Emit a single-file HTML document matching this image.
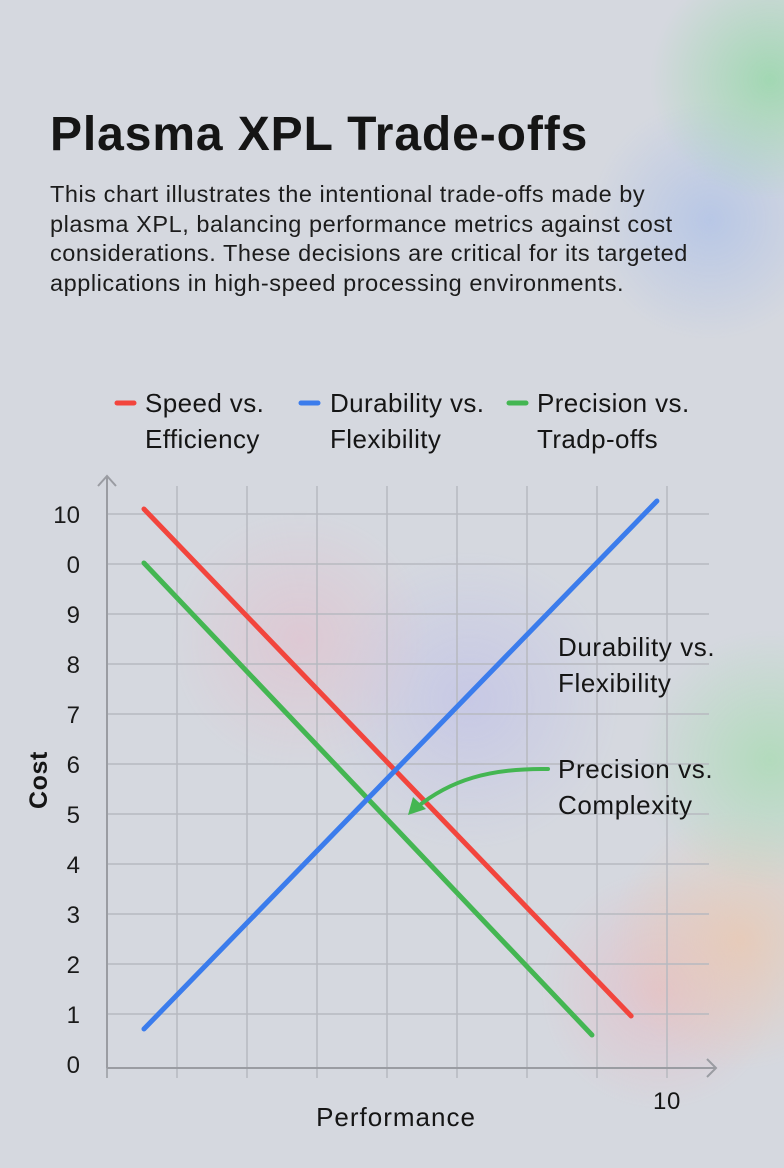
<!DOCTYPE html>
<html><head><meta charset="utf-8"><style>
html,body{margin:0;padding:0}
body{width:784px;height:1168px;overflow:hidden;position:relative;font-family:"Liberation Sans",sans-serif;color:#151515;
background:
radial-gradient(circle at 770px 80px, rgba(140,215,160,.7) 0, rgba(140,215,160,0) 120px),
radial-gradient(circle at 710px 220px, rgba(160,185,235,.55) 0, rgba(160,185,235,0) 120px),
radial-gradient(circle at 300px 640px, rgba(230,185,200,.5) 0, rgba(230,185,200,0) 130px),
radial-gradient(circle at 470px 700px, rgba(185,185,235,.5) 0, rgba(185,185,235,0) 150px),
radial-gradient(circle at 770px 760px, rgba(160,220,170,.65) 0, rgba(160,220,170,0) 130px),
radial-gradient(circle at 740px 940px, rgba(235,200,175,.75) 0, rgba(235,200,175,0) 130px),
radial-gradient(circle at 660px 990px, rgba(235,180,190,.55) 0, rgba(235,180,190,0) 120px),
#d5d8df;}
h1{position:absolute;left:50px;top:107px;margin:0;font-size:48px;font-weight:bold;letter-spacing:0.9px}
p{position:absolute;left:50px;top:180px;margin:0;font-size:23.5px;line-height:29.5px;width:740px;color:#1c1c1c;letter-spacing:0.55px}
svg{position:absolute;left:0;top:0}
</style></head><body>
<h1>Plasma XPL Trade-offs</h1>
<p>This chart illustrates the intentional trade-offs made by<br>plasma XPL, balancing performance metrics against cost<br>considerations. These decisions are critical for its targeted<br>applications in high-speed processing environments.</p>
<svg id="c" width="784" height="1168"></svg>
<script>
const yTickLabels=["0","1","2","3","4","5","6","7","8","9","0","10"];
const xGridValues=[0,1.25,2.5,3.75,5,6.25,7.5,8.75,10];
const seriesNames=["Speed vs. Efficiency","Durability vs. Flexibility","Precision vs. Tradp-offs"];
const redX=[0.66,9.36], redY=[11.1,0.96];
const blueX=[0.66,9.82], blueY=[0.7,11.26];
const greenX=[0.66,8.66], greenY=[10.02,0.58];
const X=v=>107+v*56, Y=v=>1064-v*50;
const NS="http://www.w3.org/2000/svg", svg=document.getElementById('c');
function mk(t,a,p){const e=document.createElementNS(NS,t);for(const k in a)e.setAttribute(k,a[k]);(p||svg).appendChild(e);return e;}
yTickLabels.forEach((l,i)=>{
 if(i>0){const g=mk('line',{x1:107,x2:709,y1:Y(i),y2:Y(i),stroke:'#b7b9c0','stroke-width':1.5});
 
 }
 const t=mk('text',{x:80,y:Y(i)+9,'text-anchor':'end','font-size':24,fill:'#1a1a1a'});t.textContent=l;
 
 
});
xGridValues.forEach((v,i)=>{
 const g=mk('line',{x1:X(v)|0,x2:X(v)|0,y1:i?486:480,y2:1078,stroke:i?'#b7b9c0':'#9a9ca2','stroke-width':1.5});
 
 
});
const ax=mk('path',{d:'M107 1068 H716 M707 1059 L716 1068 L707 1077 M107 1068 V476 M98 486 L107 476 L116 486',stroke:'#9a9ca2','stroke-width':2,fill:'none'});


function series(xs,ys,col,name){const l=mk('line',{x1:X(xs[0]),y1:Y(ys[0]),x2:X(xs[1]),y2:Y(ys[1]),stroke:col,'stroke-width':5,'stroke-linecap':'round'});
 
 }
series(redX,redY,'#f2453d','series-speed-efficiency');
series(greenX,greenY,'#44b652','series-precision-tradeoffs');
series(blueX,blueY,'#3b7cec','series-durability-flexibility');
</script>
<svg width="784" height="1168" font-family="Liberation Sans, sans-serif">
<g font-size="26" fill="#151515" letter-spacing="0.4">
<line x1="117" y1="403" x2="134" y2="403" stroke="#f2453d" stroke-width="5" stroke-linecap="round"/>
<text x="145" y="412">Speed vs.<tspan x="145" dy="36">Efficiency</tspan></text>
<line x1="301" y1="403" x2="318" y2="403" stroke="#3b7cec" stroke-width="5" stroke-linecap="round"/>
<text x="330" y="412">Durability vs.<tspan x="330" dy="36">Flexibility</tspan></text>
<line x1="509" y1="403" x2="526" y2="403" stroke="#44b652" stroke-width="5" stroke-linecap="round"/>
<text x="537" y="412">Precision vs.<tspan x="537" dy="36">Tradp-offs</tspan></text>
</g>
<g font-size="26" fill="#151515" letter-spacing="0.6">
<text x="558" y="656">Durability vs.<tspan x="558" dy="36">Flexibility</tspan></text>
<text x="558" y="778">Precision vs.<tspan x="558" dy="36">Complexity</tspan></text>
<text x="396" y="1126" text-anchor="middle" letter-spacing="1">Performance</text>
<text x="667" y="1109" text-anchor="middle" font-size="24">10</text>
<text transform="translate(47,780) rotate(-90)" text-anchor="middle" font-weight="bold" font-size="25">Cost</text>
</g>
<path d="M548 769 C490 768 450 780 416 808" stroke="#44b652" stroke-width="4" fill="none" stroke-linecap="round"/>
<path d="M408 815 L413 797 L426 809 Z" fill="#44b652"/>
</svg>
</body></html>
